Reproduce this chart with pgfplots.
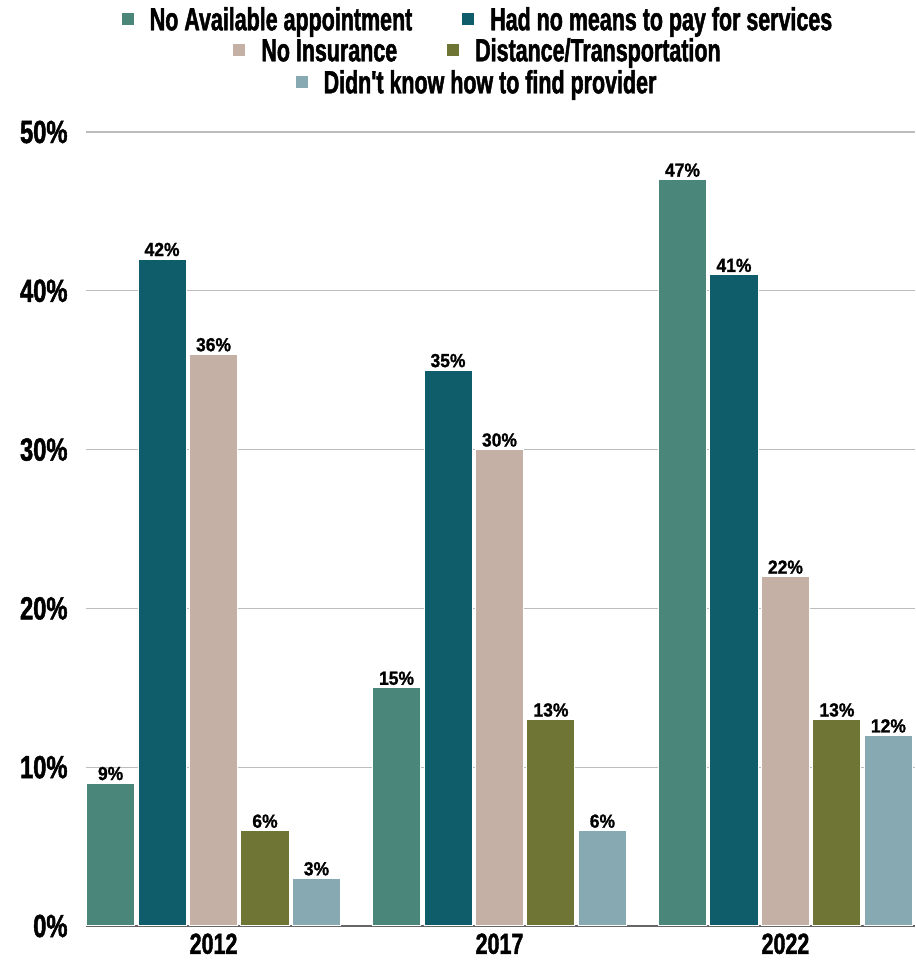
\documentclass[border=0pt]{standalone}
\usepackage{pgfplots}
\pgfplotsset{compat=1.18}
\usepackage{fontspec}
\setmainfont{Liberation Sans}[FakeStretch=0.67, Ligatures=TeXOff, BoldFeatures={FakeBold=1.5}]
\newfontfamily\tickfont{Liberation Sans}[FakeStretch=0.74, BoldFeatures={FakeBold=1.5}]
\newfontfamily\labfont{Liberation Sans}[FakeStretch=0.92, BoldFeatures={FakeBold=1.2}]
\definecolor{c1}{HTML}{4A877A}
\definecolor{c2}{HTML}{0F5C6B}
\definecolor{c3}{HTML}{C5B0A6}
\definecolor{c4}{HTML}{6F7534}
\definecolor{c5}{HTML}{86A9B2}
\definecolor{gridc}{HTML}{BDBDBD}
\newcommand{\sq}[1]{\textcolor{#1}{\rule[5pt]{12pt}{12pt}}\hspace{16pt}}
\begin{document}
\begin{tikzpicture}
\useasboundingbox (-86pt,-42pt) rectangle (829pt,926pt);
\begin{axis}[
  scale only axis, width=829pt, height=794pt,
  xmin=-0.446, xmax=2.453, ymin=0, ymax=50,
  ybar, bar width=0.168,
  axis x line*=bottom, axis y line*=left,
  y axis line style={draw=none},
  x axis line style={draw=black!60, line width=1.2pt},
  xtick={0,1,2}, xticklabels={2012,2017,2022},
  tick style={draw=none}, major tick length=0pt,
  ytick={0,10,20,30,40,50},
  ymajorgrids, grid style={gridc, line width=1.2pt},
  yticklabels={0\%,10\%,20\%,30\%,40\%,50\%},
  ticklabel style={font=\tickfont\bfseries\fontsize{29}{30}\selectfont},
  yticklabel style={anchor=east, xshift=-15pt, font=\tickfont\bfseries\fontsize{32}{32}\selectfont},
  xticklabel style={yshift=-4pt},
  nodes near coords={\pgfmathprintnumber[assume math mode=true]{\pgfplotspointmeta}\%},
  every node near coord/.append style={font=\labfont\bfseries\fontsize{19}{20}\selectfont, black, yshift=-1pt},
  clip=false,
]
\addplot[fill=c1, draw=white, line width=1pt, bar shift=-0.36] coordinates {(0,9) (1,15) (2,47)};
\addplot[fill=c2, draw=white, line width=1pt, bar shift=-0.18] coordinates {(0,42) (1,35) (2,41)};
\addplot[fill=c3, draw=white, line width=1pt, bar shift=0] coordinates {(0,36) (1,30) (2,22)};
\addplot[fill=c4, draw=white, line width=1pt, bar shift=0.18] coordinates {(0,6) (1,13) (2,13)};
\addplot[fill=c5, draw=white, line width=1pt, bar shift=0.36] coordinates {(0,3) (1,6) (2,12)};
\end{axis}
\begin{scope}[every node/.style={font=\bfseries\fontsize{32}{34}\selectfont, inner sep=0pt}]
\node at (391pt,904pt) {\sq{c1}No Available appointment\hspace{50pt}\sq{c2}Had no means to pay for services};
\node at (391pt,873pt) {\sq{c3}No Insurance\hspace{50pt}\sq{c4}Distance/Transportation};
\node at (390pt,841pt) {\sq{c5}Didn't know how to find provider};
\end{scope}
\end{tikzpicture}
\end{document}
